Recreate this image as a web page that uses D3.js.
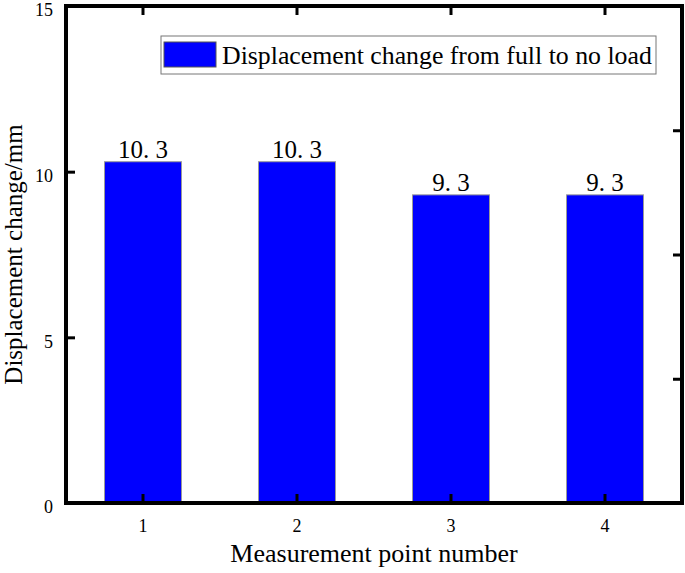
<!DOCTYPE html>
<html lang="en">
  <head>
    <meta charset="utf-8">
    <title>displacement</title>
    <style>
      body { margin: 0; background: #fff; }
    </style>
  </head>
  <body>

<script src="https://cdn.jsdelivr.net/npm/d3@7"></script>

<script>

// data
var points = ["1", "2", "3", "4"];
var displacement = [10.3, 10.3, 9.3, 9.3];
var yTicks = [0, 5, 10, 15];
var seriesName = "Displacement change from full to no load";

var FONT = "'Liberation Serif', Tinos, 'Times New Roman', 'DejaVu Serif', serif";

var W = 685, H = 573;
var margin = {top: 6, right: 3, bottom: 70, left: 66};
var w = W - margin.left - margin.right;
var h = H - margin.top - margin.bottom;

var svg = d3.select("body").append("svg")
            .attr("width", W)
            .attr("height", H)
            .style("font-family", FONT);

var g = svg.append("g")
           .attr("transform", "translate(" + margin.left + "," + margin.top + ")");

var x = d3.scaleBand().domain(points).range([0, w]).padding(0);
var y = d3.scaleLinear().domain([0, 15]).range([h, 0]);
var yRight = d3.scaleLinear().domain([0, 1]).range([h, 0]);

// bars
var barW = x.bandwidth() * 0.5;
g.selectAll("rect.bar")
 .data(displacement)
 .enter().append("rect")
 .attr("class", "bar")
 .attr("x", function(d, i) { return x(points[i]) + (x.bandwidth() - barW) / 2; })
 .attr("y", function(d) { return y(d); })
 .attr("width", barW)
 .attr("height", function(d) { return h - y(d); })
 .attr("fill", "#0000ff")
 .attr("stroke", "#9a9a9a")
 .attr("stroke-width", 1);

// value labels
g.selectAll("text.val")
 .data(displacement)
 .enter().append("text")
 .attr("class", "val")
 .attr("x", function(d, i) { return x(points[i]) + x.bandwidth() / 2; })
 .attr("y", function(d) { return y(d) - 4; })
 .attr("text-anchor", "middle")
 .style("font-family", FONT)
 .attr("font-size", 25)
 .attr("fill", "#000")
 .text(function(d) { return d3.format(".1f")(d).replace(".", ". "); });

// axes, ticks pointing inward
function styleAxis(sel) {
  sel.attr("font-family", null);
  sel.select(".domain").remove();
  sel.selectAll(".tick line").attr("stroke", "#000").attr("stroke-width", 3);
  sel.selectAll(".tick text")
     .style("font-family", FONT)
     .attr("font-size", 18).attr("fill", "#000");
}

g.append("g")
 .call(d3.axisLeft(y).tickValues(yTicks).tickSize(-9).tickPadding(13))
 .call(styleAxis)
 .selectAll(".tick text").attr("y", 4);

g.append("g")
 .attr("transform", "translate(0," + h + ")")
 .call(d3.axisBottom(x).tickSize(-9).tickPadding(16))
 .call(styleAxis);

g.append("g")
 .call(d3.axisTop(x).tickSize(-9).tickFormat(""))
 .call(styleAxis);

g.append("g")
 .attr("transform", "translate(" + w + ",0)")
 .call(d3.axisRight(yRight).tickValues([0.25, 0.5, 0.75]).tickSize(-9).tickFormat(""))
 .call(styleAxis);

// frame
g.append("rect")
 .attr("x", 0).attr("y", 0)
 .attr("width", w).attr("height", h)
 .attr("fill", "none")
 .attr("stroke", "#000")
 .attr("stroke-width", 4);

// legend
var leg = svg.append("g").attr("transform", "translate(161,36)");
leg.append("rect")
   .attr("width", 495).attr("height", 38)
   .attr("fill", "#fff").attr("stroke", "#777").attr("stroke-width", 1);
leg.append("rect")
   .attr("x", 3).attr("y", 6).attr("width", 52).attr("height", 25)
   .attr("fill", "#0000ff").attr("stroke", "#555").attr("stroke-width", 1);
leg.append("text")
   .attr("x", 61).attr("y", 28)
   .style("font-family", FONT)
   .attr("font-size", 25.8).attr("fill", "#000")
   .text(seriesName);

// axis titles
svg.append("text")
   .attr("x", margin.left + w / 2).attr("y", 562)
   .attr("text-anchor", "middle")
   .style("font-family", FONT)
   .attr("font-size", 26).attr("fill", "#000")
   .text("Measurement point number");

svg.append("text")
   .attr("transform", "translate(22," + (margin.top + h / 2) + ") rotate(-90)")
   .attr("text-anchor", "middle")
   .style("font-family", FONT)
   .attr("font-size", 25).attr("fill", "#000")
   .text("Displacement change/mm");

</script>

  </body>
</html>
